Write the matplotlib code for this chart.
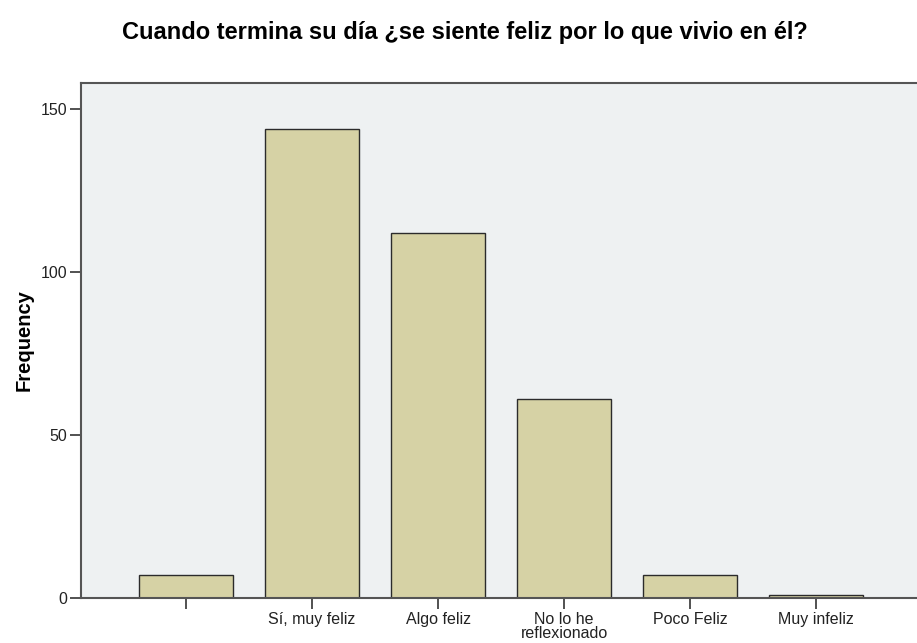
import numpy as np
import matplotlib.pyplot as plt

# datos de la pregunta
categorias = ['', 'Sí, muy feliz', 'Algo feliz', 'No lo he\nreflexionado', 'Poco Feliz', 'Muy infeliz']
frecuencias = [7, 144, 112, 61, 7, 1]
ticks_y = [0, 50, 100, 150]

plt.rcParams['font.family'] = ['Liberation Sans', 'DejaVu Sans']

fig = plt.figure(figsize=(9.17, 6.43), dpi=100)
ax = fig.add_axes([0.0883, 0.070, 0.9117, 0.801])
ax.set_facecolor('#eef1f2')

x = np.arange(len(categorias))
ax.bar(x, frecuencias, width=0.75, color='#d6d2a5', edgecolor='#2b2b2b', linewidth=1.0, zorder=2)

ax.set_xlim(-0.833, 5.8)
ax.set_ylim(0, 158)
ax.set_xticks(x)
ax.set_xticklabels(categorias, fontsize=11.5, color='#222222', linespacing=0.9)
ax.set_yticks(ticks_y)
ax.set_yticklabels([str(t) for t in ticks_y], fontsize=11.5, color='#222222')
ax.tick_params(axis='both', length=8, width=1.2, color='#333333', direction='out', pad=2)

for s in ['left', 'bottom', 'top']:
    ax.spines[s].set_color('#555555')
    ax.spines[s].set_linewidth(1.5)
ax.spines['right'].set_visible(False)

ax.set_ylabel('Frequency', fontsize=14.5, fontweight='bold', labelpad=5)
fig.text(0.507, 0.950, 'Cuando termina su día ¿se siente feliz por lo que vivio en él?',
         ha='center', va='center', fontsize=17, fontweight='bold')

plt.savefig('out.png', dpi=100)
plt.close()
